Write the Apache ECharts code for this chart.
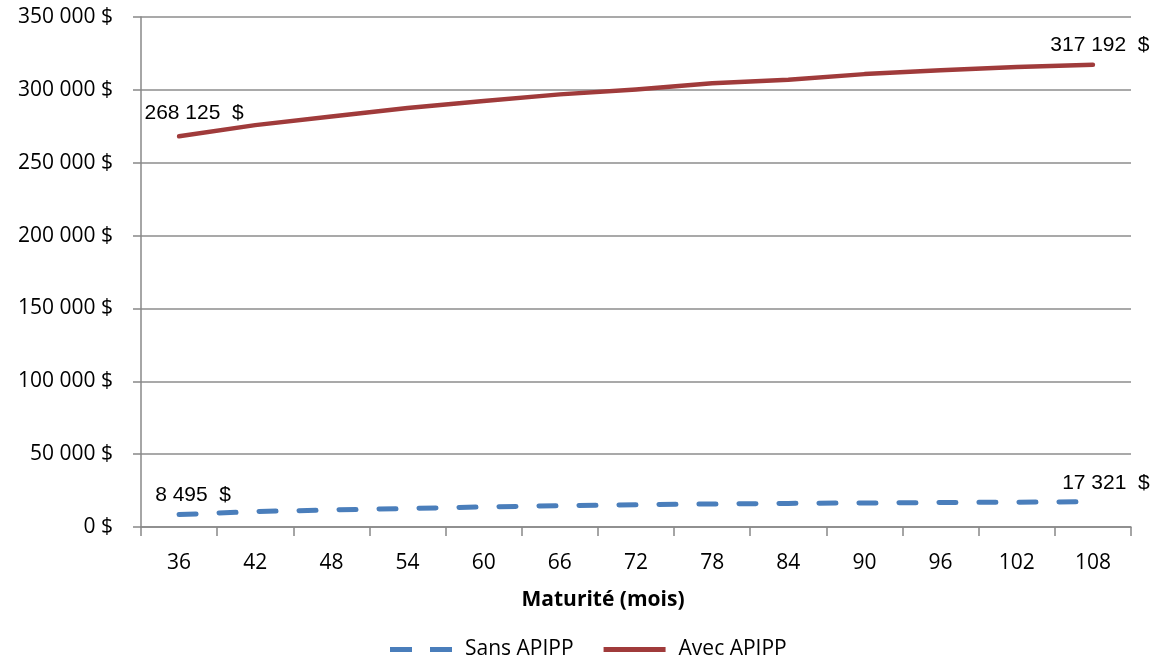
<!DOCTYPE html>
<html>
<head>
<meta charset="utf-8">
<script src="https://cdn.jsdelivr.net/npm/echarts@6/dist/echarts.min.js"></script>
<style>
html,body{margin:0;padding:0;background:#fff;}
#chart{width:1158px;height:662px;}
</style>
</head>
<body>
<div id="chart"></div>
<script>
// Maturité (mois)
const maturites = ['36','42','48','54','60','66','72','78','84','90','96','102','108'];
// Valeur sans APIPP
const sansApipp = [8495, 10600, 11700, 12700, 13800, 14600, 15300, 15800, 16200, 16500, 16800, 17000, 17321];
// Valeur avec APIPP
const avecApipp = [268125, 275800, 281700, 287600, 292300, 296900, 300300, 304600, 306900, 310800, 313400, 315700, 317192];
const yTicks = { min: 0, max: 350000, interval: 50000 };

const fmtMoney = v => String(Math.round(v)).replace(/\B(?=(\d{3})+(?!\d))/g, ' ');
const axisFont = '"Open Sans", "Noto Sans", sans-serif';
const labelFont = '"Liberation Sans", Arial, sans-serif';
const lastIdx = maturites.length - 1;

// Only the first and last points carry a value label
function endLabels(values, firstOffset, lastOffset) {
  return values.map((v, i) => {
    if (i === 0 || i === lastIdx) {
      return {
        value: v,
        label: {
          show: true,
          position: 'inside',
          offset: i === 0 ? firstOffset : lastOffset,
          formatter: p => fmtMoney(p.value) + '  $',
          fontFamily: labelFont,
          fontSize: 21,
          color: '#000'
        }
      };
    }
    return v;
  });
}

const chart = echarts.init(document.getElementById('chart'), null, { renderer: 'canvas' });
chart.setOption({
  animation: false,
  backgroundColor: '#fff',
  grid: { left: 141, right: 27, top: 17, bottom: 135, containLabel: false },
  xAxis: {
    type: 'category',
    data: maturites,
    boundaryGap: true,
    name: 'Maturité (mois)',
    nameLocation: 'middle',
    nameGap: 63,
    nameTextStyle: {
      fontFamily: axisFont, fontSize: 21, fontWeight: 'bold', color: '#000',
      padding: [0, 66, 0, 0]
    },
    axisLine: { lineStyle: { color: '#888', width: 1.5 } },
    axisTick: { show: true, length: 9, alignWithLabel: false, lineStyle: { color: '#888', width: 1.5 } },
    axisLabel: { fontFamily: axisFont, fontSize: 21, color: '#000', margin: 26 },
    splitLine: { show: false }
  },
  yAxis: {
    type: 'value',
    min: yTicks.min,
    max: yTicks.max,
    interval: yTicks.interval,
    axisLine: { show: true, lineStyle: { color: '#888', width: 1.5 } },
    axisTick: { show: true, length: 8, lineStyle: { color: '#888', width: 1.5 } },
    axisLabel: {
      fontFamily: axisFont, fontSize: 21, color: '#000', margin: 28,
      formatter: v => fmtMoney(v) + ' $'
    },
    splitLine: { show: true, lineStyle: { color: '#8c8c8c', width: 1.5 } }
  },
  legend: {
    top: 634,
    left: 385,
    itemWidth: 62,
    itemHeight: 5,
    itemGap: 30,
    textStyle: { fontFamily: axisFont, fontSize: 21, color: '#000', padding: [0, 0, 0, 8] },
    data: [
      { name: 'Sans APIPP', icon: 'path://M0,0H22V5H0Z M40,0H62V5H40Z', itemStyle: { color: '#4a7ebb' } },
      { name: 'Avec APIPP', icon: 'path://M0,0H62V5H0Z', itemStyle: { color: '#a03b3b' } }
    ]
  },
  series: [
    {
      name: 'Sans APIPP',
      type: 'line',
      data: endLabels(sansApipp, [14, -19], [13, -19]),
      symbol: 'circle',
      symbolSize: 0,
      showSymbol: true,
      lineStyle: { color: '#4a7ebb', width: 5, type: [17, 23], cap: 'round' },
      itemStyle: { color: '#4a7ebb' },
      label: { show: false }
    },
    {
      name: 'Avec APIPP',
      type: 'line',
      data: endLabels(avecApipp, [15, -23], [7, -20]),
      symbol: 'circle',
      symbolSize: 0,
      showSymbol: true,
      lineStyle: { color: '#a03b3b', width: 4.5, cap: 'round', join: 'round' },
      itemStyle: { color: '#a03b3b' },
      label: { show: false }
    }
  ]
});
</script>
</body>
</html>
